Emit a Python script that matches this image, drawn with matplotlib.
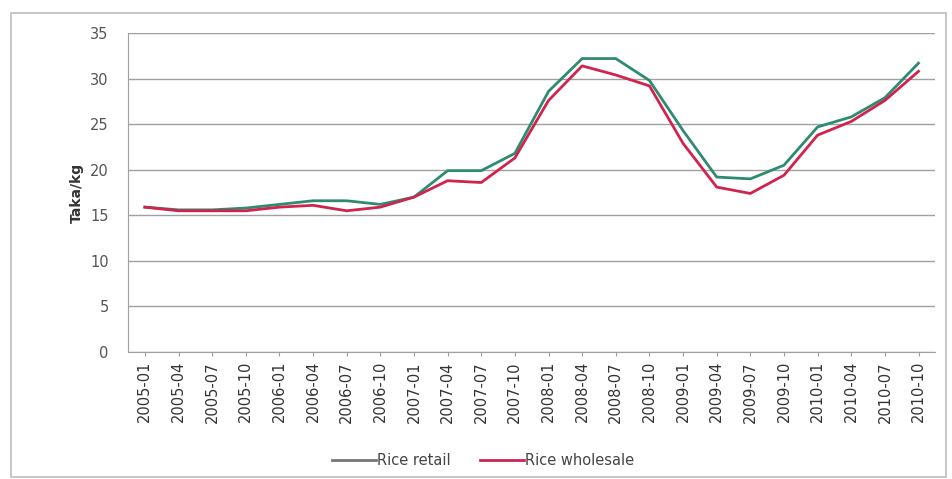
import matplotlib.pyplot as plt
from matplotlib.patches import Rectangle
import numpy as np

months = [
    "2005-01", "2005-04", "2005-07", "2005-10",
    "2006-01", "2006-04", "2006-07", "2006-10",
    "2007-01", "2007-04", "2007-07", "2007-10",
    "2008-01", "2008-04", "2008-07", "2008-10",
    "2009-01", "2009-04", "2009-07", "2009-10",
    "2010-01", "2010-04", "2010-07", "2010-10",
]
rice_retail = [
    15.9, 15.6, 15.6, 15.8, 16.2, 16.6, 16.6, 16.2,
    17.0, 19.9, 19.9, 21.8, 28.6, 32.2, 32.2, 29.8,
    24.3, 19.2, 19.0, 20.5, 24.7, 25.8, 27.9, 31.7,
]
rice_wholesale = [
    15.9, 15.5, 15.5, 15.5, 15.9, 16.1, 15.5, 15.9,
    17.0, 18.8, 18.6, 21.3, 27.6, 31.4, 30.4, 29.2,
    22.9, 18.1, 17.4, 19.4, 23.8, 25.3, 27.6, 30.8,
]

fig = plt.figure(figsize=(9.52, 4.79), dpi=100)
fig.patches.append(Rectangle((0.012, 0.004), 0.982, 0.969, transform=fig.transFigure,
                             fill=False, edgecolor="#bdbdbd", linewidth=1.2))

ax = fig.add_axes([0.1345, 0.265, 0.848, 0.666])
x = np.arange(len(months))
ax.plot(x, rice_retail, color="#2e8b72", linewidth=2, label="Rice retail")
ax.plot(x, rice_wholesale, color="#d0244e", linewidth=2, label="Rice wholesale")

ax.set_xlim(-0.5, len(months) - 0.5)
ax.set_ylim(0, 35)
ax.set_yticks(range(0, 36, 5))
ax.set_xticks(x)
ax.set_xticklabels(months, rotation=90, fontsize=10.5, color="#333333")
ax.tick_params(axis="y", labelsize=10.5, colors="#555555", length=0, pad=14)
ax.tick_params(axis="x", length=3, color="#999999")
ax.grid(axis="y", color="#a0a0a0", linewidth=1)
ax.set_axisbelow(True)
for side in ["top", "right"]:
    ax.spines[side].set_visible(False)
for side in ["left", "bottom"]:
    ax.spines[side].set_color("#a0a0a0")
ax.set_ylabel("Taka/kg", fontsize=10, fontweight="bold", color="#333333", labelpad=4)

leg = ax.legend(loc="upper center", bbox_to_anchor=(0.44, -0.275), ncol=2, frameon=False,
                fontsize=10.5, handlelength=3, handletextpad=0.1, columnspacing=2)
leg.get_lines()[0].set_color("#777777")
for t in leg.get_texts():
    t.set_color("#444444")

fig.savefig("out.png", dpi=100)
